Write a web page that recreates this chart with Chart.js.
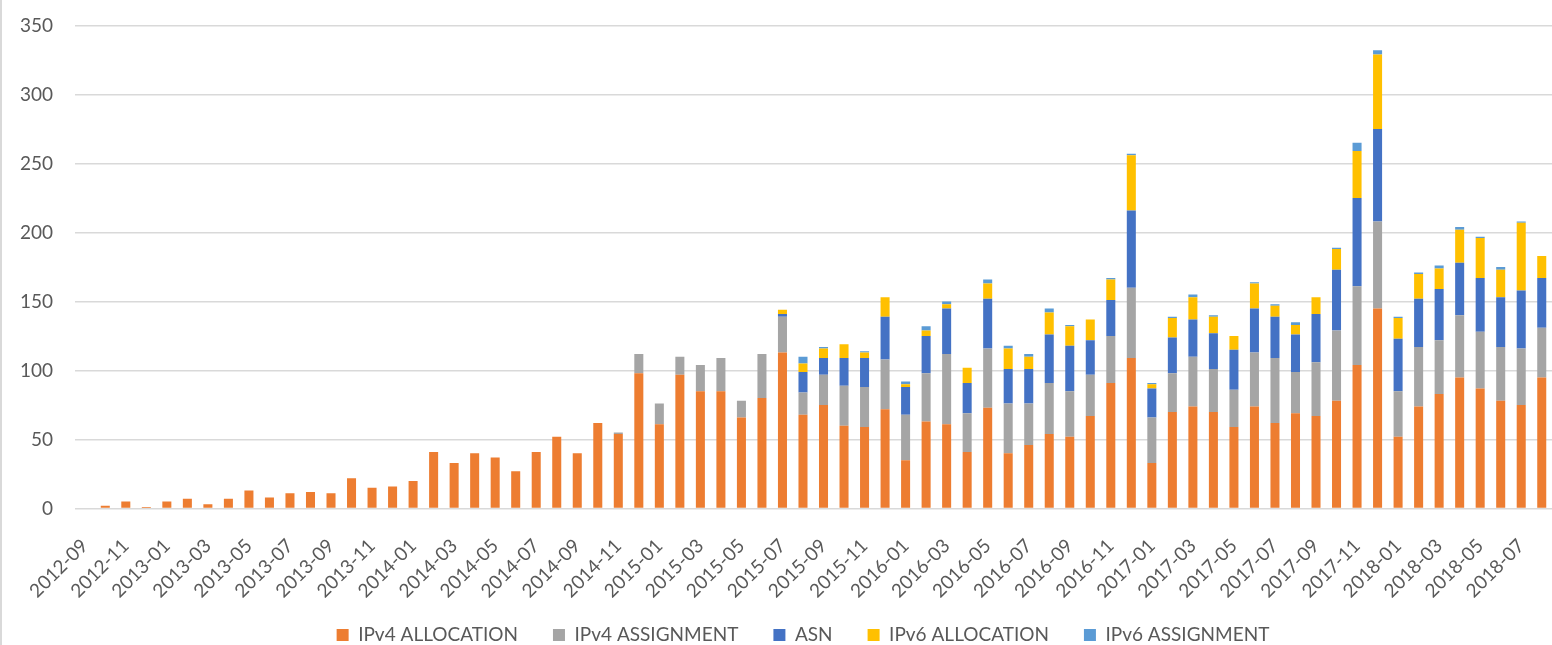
<!DOCTYPE html>
<html>
<head>
<meta charset="utf-8">
<script src="https://cdn.jsdelivr.net/npm/chart.js@4.4.0/dist/chart.umd.min.js"></script>
<style>
  html, body { margin: 0; padding: 0; background: #fff; }
  #wrap { position: relative; width: 1552px; height: 645px; overflow: hidden; }
  #wrap::before { content: ''; position: absolute; left: 0; top: 0; bottom: 0; width: 2px; background: #d9d9d9; }
  canvas { display: block; }
</style>
</head>
<body>
<div id="wrap"><canvas id="chart" width="1552" height="645"></canvas></div>
<script>
// monthly registrations, 2012-09 .. 2018-08
const months = [
  '2012-09', '2012-10', '2012-11', '2012-12',
  '2013-01', '2013-02', '2013-03', '2013-04', '2013-05', '2013-06', '2013-07', '2013-08', '2013-09', '2013-10', '2013-11', '2013-12',
  '2014-01', '2014-02', '2014-03', '2014-04', '2014-05', '2014-06', '2014-07', '2014-08', '2014-09', '2014-10', '2014-11', '2014-12',
  '2015-01', '2015-02', '2015-03', '2015-04', '2015-05', '2015-06', '2015-07', '2015-08', '2015-09', '2015-10', '2015-11', '2015-12',
  '2016-01', '2016-02', '2016-03', '2016-04', '2016-05', '2016-06', '2016-07', '2016-08', '2016-09', '2016-10', '2016-11', '2016-12',
  '2017-01', '2017-02', '2017-03', '2017-04', '2017-05', '2017-06', '2017-07', '2017-08', '2017-09', '2017-10', '2017-11', '2017-12',
  '2018-01', '2018-02', '2018-03', '2018-04', '2018-05', '2018-06', '2018-07', '2018-08'
];

const ipv4Allocation = [
  0, 2, 5, 1,
  5, 7, 3, 7, 13, 8, 11, 12, 11, 22, 15, 16,
  20, 41, 33, 40, 37, 27, 41, 52, 40, 62, 54, 98,
  61, 97, 85, 85, 66, 80, 113, 68, 75, 60, 59, 72,
  35, 63, 61, 41, 73, 40, 46, 54, 52, 67, 91, 109,
  33, 70, 74, 70, 59, 74, 62, 69, 67, 78, 104, 145,
  52, 74, 83, 95, 87, 78, 75, 95
];
const ipv4Assignment = [
  0, 0, 0, 0,
  0, 0, 0, 0, 0, 0, 0, 0, 0, 0, 0, 0,
  0, 0, 0, 0, 0, 0, 0, 0, 0, 0, 1, 14,
  15, 13, 19, 24, 12, 32, 26, 16, 22, 29, 29, 36,
  33, 35, 51, 28, 43, 36, 30, 37, 33, 30, 34, 51,
  33, 28, 36, 31, 27, 39, 47, 30, 39, 51, 57, 63,
  33, 43, 39, 45, 41, 39, 41, 36
];
const asn = [
  0, 0, 0, 0,
  0, 0, 0, 0, 0, 0, 0, 0, 0, 0, 0, 0,
  0, 0, 0, 0, 0, 0, 0, 0, 0, 0, 0, 0,
  0, 0, 0, 0, 0, 0, 2, 15, 12, 20, 21, 31,
  20, 27, 33, 22, 36, 25, 25, 35, 33, 25, 26, 56,
  21, 26, 27, 26, 29, 32, 30, 27, 35, 44, 64, 67,
  38, 35, 37, 38, 39, 36, 42, 36
];
const ipv6Allocation = [
  0, 0, 0, 0,
  0, 0, 0, 0, 0, 0, 0, 0, 0, 0, 0, 0,
  0, 0, 0, 0, 0, 0, 0, 0, 0, 0, 0, 0,
  0, 0, 0, 0, 0, 0, 3, 6, 7, 10, 4, 14,
  2, 4, 3, 11, 11, 15, 9, 16, 14, 15, 15, 40,
  3, 14, 16, 12, 10, 18, 8, 7, 12, 15, 34, 54,
  15, 18, 15, 24, 29, 20, 49, 16
];
const ipv6Assignment = [
  0, 0, 0, 0,
  0, 0, 0, 0, 0, 0, 0, 0, 0, 0, 0, 0,
  0, 0, 0, 0, 0, 0, 0, 0, 0, 0, 0, 0,
  0, 0, 0, 0, 0, 0, 0, 5, 1, 0, 1, 0,
  2, 3, 2, 0, 3, 2, 2, 3, 1, 0, 1, 1,
  1, 1, 2, 1, 0, 1, 1, 2, 0, 1, 6, 3,
  1, 1, 2, 2, 1, 2, 1, 0
];

const seriesNames = ['IPv4 ALLOCATION', 'IPv4 ASSIGNMENT', 'ASN', 'IPv6 ALLOCATION', 'IPv6 ASSIGNMENT'];
const seriesColors = ['#ED7D31', '#A5A5A5', '#4472C4', '#FFC000', '#5B9BD5'];
const yTicks = [0, 50, 100, 150, 200, 250, 300, 350];

const FONT = 'Lato, "Open Sans", sans-serif';
const TEXT = '#595959';

// excel puts the legend a bit right of the canvas centre (picture is cropped),
// and the x labels hang down past the axis box, so let them draw to the bottom
const layoutFix = {
  id: 'layoutFix',
  afterLayout(chart) {
    const lg = chart.legend;
    const pad = lg.options.labels.padding;
    const h = lg.height;
    lg.left += 27;
    lg.right += 27;
    lg.top = 635 - pad - 9.5;
    lg.bottom = lg.top + h;
    chart.scales.x.bottom = chart.height;
  }
};

const values = [ipv4Allocation, ipv4Assignment, asn, ipv6Allocation, ipv6Assignment];

new Chart(document.getElementById('chart'), {
  type: 'bar',
  data: {
    labels: months,
    datasets: values.map((d, i) => ({
      label: seriesNames[i],
      data: d,
      backgroundColor: seriesColors[i],
      borderWidth: 0,
      categoryPercentage: 1,
      barPercentage: 0.44
    }))
  },
  options: {
    responsive: false,
    animation: false,
    devicePixelRatio: 1,
    layout: { padding: { top: 25.5, left: 0, right: 0, bottom: 0 } },
    plugins: {
      tooltip: { enabled: false },
      legend: {
        position: 'bottom',
        labels: {
          boxWidth: 12,
          boxHeight: 12,
          padding: 35,
          color: TEXT,
          font: { family: FONT, size: 19 }
        }
      }
    },
    scales: {
      x: {
        stacked: true,
        grid: { display: false },
        border: { display: false },
        ticks: {
          autoSkip: false,
          minRotation: 45,
          maxRotation: 45,
          padding: 18,
          color: TEXT,
          font: { family: FONT, size: 19 },
          callback: function (v, i) { return i % 2 === 0 ? this.getLabelForValue(v) : null; }
        },
        afterFit(scale) {
          scale.height = 645 - 508.5 - scale.chart.legend.height;
          scale.paddingLeft = 0;
          scale.paddingRight = 0;
        }
      },
      y: {
        stacked: true,
        min: yTicks[0],
        max: yTicks[yTicks.length - 1],
        afterBuildTicks(scale) { scale.ticks = yTicks.map(v => ({ value: v })); },
        grid: { color: '#D9D9D9', lineWidth: 1.5, drawTicks: false },
        border: { display: false },
        ticks: {
          padding: 21.5,
          color: TEXT,
          font: { family: FONT, size: 19 }
        },
        afterFit(scale) {
          scale.width = 74.5;
          scale.paddingTop = 12;
        }
      }
    }
  },
  plugins: [layoutFix]
});
</script>
</body>
</html>
